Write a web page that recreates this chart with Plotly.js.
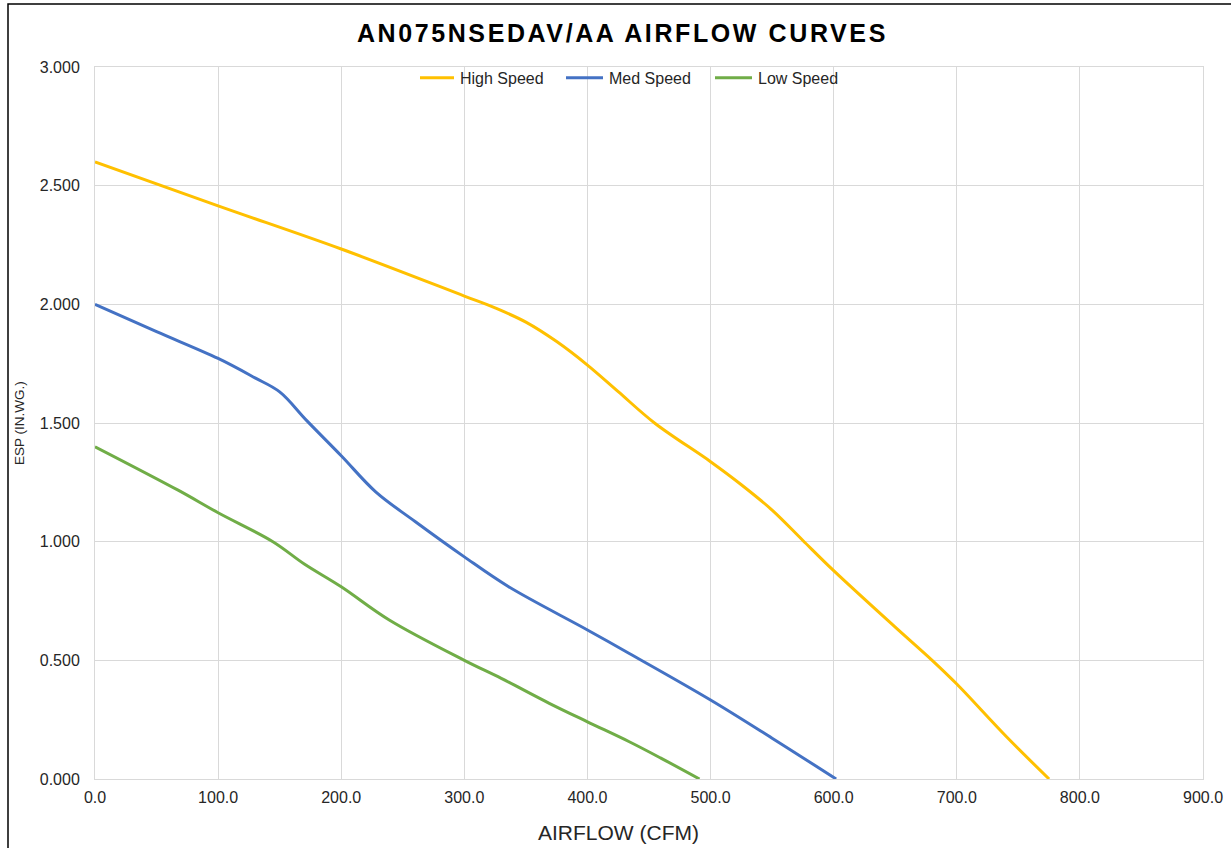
<!DOCTYPE html>
<html>
<head>
<meta charset="utf-8">
<script src="https://cdn.plot.ly/plotly-3.0.1.min.js"></script>
<style>
  html, body { margin: 0; padding: 0; background: #fff; }
  #chart { width: 1231px; height: 848px; }
</style>
</head>
<body>
<div id="chart"></div>
<script>
// ---- Data ----
const highCfm = [0, 100, 200, 300, 325, 350, 375, 400, 425, 455, 500, 525, 550, 575, 600, 650, 680, 700, 740, 775];
const highEsp = [2.600, 2.415, 2.233, 2.035, 1.985, 1.925, 1.843, 1.744, 1.632, 1.498, 1.337, 1.240, 1.133, 1.005, 0.878, 0.640, 0.500, 0.400, 0.180, 0.000];

const medCfm = [0, 50, 100, 130, 150, 172, 200, 228, 260, 300, 336, 400, 434, 500, 550, 602];
const medEsp = [2.000, 1.885, 1.772, 1.690, 1.631, 1.510, 1.362, 1.210, 1.085, 0.936, 0.810, 0.628, 0.529, 0.333, 0.172, 0.000];

const lowCfm = [0, 67.5, 100, 144.5, 170, 200, 239, 300, 330, 369, 400, 434, 460, 491];
const lowEsp = [1.400, 1.217, 1.122, 1.000, 0.906, 0.810, 0.670, 0.500, 0.424, 0.319, 0.241, 0.157, 0.087, 0.000];

const seriesNames = ["High Speed", "Med Speed", "Low Speed"];
const seriesColors = ["#FFC000", "#4472C4", "#70AD47"];

const xTickVals = [0, 100, 200, 300, 400, 500, 600, 700, 800, 900];
const yTickVals = [0, 0.5, 1.0, 1.5, 2.0, 2.5, 3.0];

const chartTitle = "AN075NSEDAV/AA AIRFLOW CURVES";
const xTitle = "AIRFLOW (CFM)";
const yTitle = "ESP (IN.WG.)";

// ---- Traces ----
const xs = [highCfm, medCfm, lowCfm];
const ys = [highEsp, medEsp, lowEsp];
const traces = seriesNames.map((name, i) => ({
  type: "scatter",
  mode: "lines",
  name: name,
  x: xs[i],
  y: ys[i],
  line: { color: seriesColors[i], width: 3, shape: "spline", smoothing: 1.0 },
  hoverinfo: "x+y+name"
}));

const font = "Liberation Sans, Arial, sans-serif";
const txt = "#262626";

const layout = {
  width: 1231,
  height: 848,
  paper_bgcolor: "#ffffff",
  plot_bgcolor: "#ffffff",
  margin: { l: 95, r: 28, t: 67, b: 69, pad: 0 },
  font: { family: font, color: txt, size: 16 },
  title: {
    text: "<b>" + chartTitle + "</b>",
    font: { family: font, size: 25, color: "#000000" },
    x: 0.476, xanchor: "center",
    y: 1 - 33 / 848, yanchor: "middle",
    xref: "paper"
  },
  showlegend: true,
  legend: {
    orientation: "h",
    x: (420 - 95) / 1108, xanchor: "left",
    y: 1.0085, yanchor: "top",
    font: { family: font, size: 16, color: txt },
    bgcolor: "rgba(255,255,255,0)",
    entrywidth: 104,
    entrywidthmode: "pixels",
    tracegroupgap: 0
  },
  xaxis: {
    range: [0, 900],
    tickvals: xTickVals,
    tickformat: ".1f",
    showgrid: true,
    gridcolor: "#d9d9d9",
    gridwidth: 1,
    zeroline: false,
    showline: true,
    linecolor: "#d9d9d9",
    linewidth: 1,
    mirror: true,
    ticks: "",
    ticklen: 0,
    ticklabelstandoff: 4,
    tickfont: { family: font, size: 16, color: txt },
    fixedrange: true
  },
  yaxis: {
    range: [0, 3],
    tickvals: yTickVals,
    tickformat: ".3f",
    showgrid: true,
    gridcolor: "#d9d9d9",
    gridwidth: 1,
    zeroline: false,
    showline: true,
    linecolor: "#d9d9d9",
    linewidth: 1,
    mirror: true,
    ticks: "",
    ticklen: 0,
    ticklabelstandoff: 11,
    tickfont: { family: font, size: 16, color: txt },
    fixedrange: true
  },
  annotations: [
    {
      text: xTitle,
      xref: "paper", yref: "paper",
      x: (618 - 95) / 1108, y: (779 - 833) / 712,
      xanchor: "center", yanchor: "middle",
      showarrow: false,
      font: { family: font, size: 21, color: txt }
    },
    {
      text: yTitle,
      xref: "paper", yref: "paper",
      x: (19 - 95) / 1108, y: 0.5,
      xanchor: "center", yanchor: "middle",
      textangle: -90,
      showarrow: false,
      font: { family: font, size: 13.5, color: txt }
    }
  ],
  shapes: [
    {
      type: "path",
      xref: "paper", yref: "paper",
      path: "M " + ((8 - 95) / 1108) + " " + ((779 - 900) / 712) +
            " L " + ((8 - 95) / 1108) + " " + (1 + (67 - 4) / 712) +
            " L " + ((1300 - 95) / 1108) + " " + (1 + (67 - 4) / 712),
      line: { color: "#000000", width: 1.5 },
      layer: "above"
    }
  ]
};

Plotly.newPlot("chart", traces, layout, { displayModeBar: false, staticPlot: true }).then(() => {
  const t = document.querySelector(".gtitle");
  if (t) t.style.letterSpacing = "2.6px";
  // lengthen legend line samples to match the reference's longer swatches
  document.querySelectorAll(".legend .legendlines path").forEach(p => {
    p.setAttribute("d", "M-3,0h37");
  });
});
</script>
</body>
</html>
